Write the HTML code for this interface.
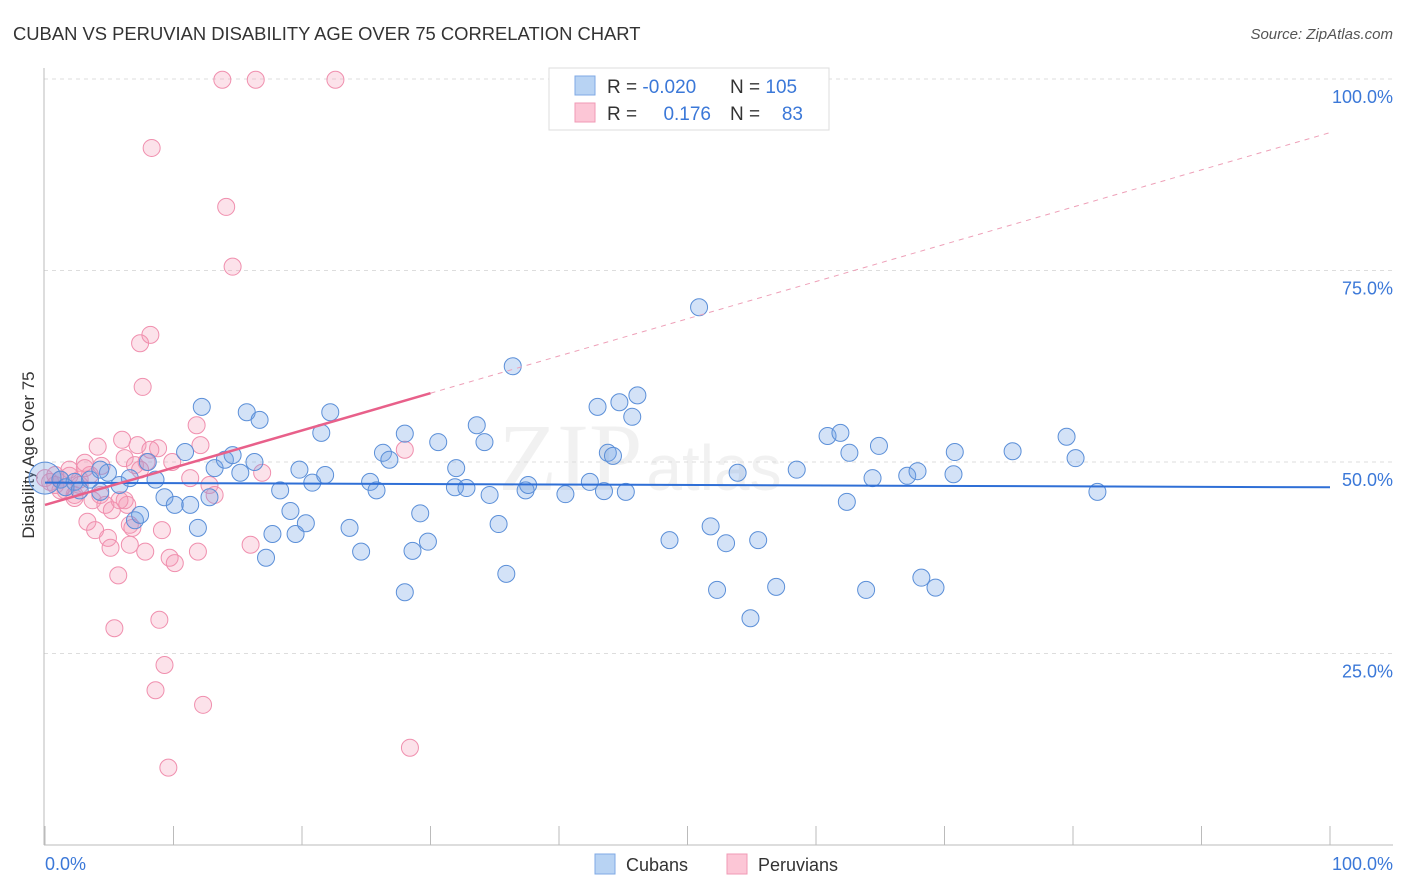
<!DOCTYPE html>
<html><head><meta charset="utf-8">
<style>
body{margin:0;background:#fff;font-family:"Liberation Sans",sans-serif;}
svg{display:block}
</style></head>
<body>
<svg id="chart" width="1406" height="892" xmlns="http://www.w3.org/2000/svg">
<text x="13" y="40" font-size="18.4" fill="#333">CUBAN VS PERUVIAN DISABILITY AGE OVER 75 CORRELATION CHART</text>
<text x="1393" y="39" font-size="15" fill="#555" font-style="italic" text-anchor="end">Source: ZipAtlas.com</text>
<text x="640" y="490" font-size="96" fill="#000" opacity="0.05" text-anchor="middle" font-family="Liberation Serif">ZIP<tspan font-family="Liberation Sans" font-size="64" dx="4">atlas</tspan></text>
<text transform="translate(34,455) rotate(-90)" font-size="17" fill="#333" text-anchor="middle">Disability Age Over 75</text>
<g id="grid"></g>
<g id="pts"></g>
<g id="trends"></g>
<g>
<rect x="549" y="68" width="280" height="62" fill="#fff" stroke="#ddd"/>
<rect x="575" y="76" width="20" height="19" fill="#b8d3f3" stroke="#7fa9e4"/>
<rect x="575" y="103" width="20" height="19" fill="#fcc6d6" stroke="#f09ab5"/>
<text x="607" y="93" font-size="19" fill="#333">R = <tspan fill="#3b78d8">-0.020</tspan></text>
<text x="730" y="93" font-size="19" fill="#333">N = <tspan fill="#3b78d8">105</tspan></text>
<text x="607" y="120" font-size="19" fill="#333">R = </text>
<text x="711" y="120" font-size="19" fill="#3b78d8" text-anchor="end">0.176</text>
<text x="730" y="120" font-size="19" fill="#333">N = </text>
<text x="803" y="120" font-size="19" fill="#3b78d8" text-anchor="end">83</text>
</g>
<g>
<rect x="595" y="854" width="20" height="20" fill="#b8d3f3" stroke="#7fa9e4"/>
<text x="626" y="871" font-size="18" fill="#333">Cubans</text>
<rect x="727" y="854" width="20" height="20" fill="#fcc6d6" stroke="#f09ab5"/>
<text x="758" y="871" font-size="18" fill="#333">Peruvians</text>
</g>
<text x="45" y="870" font-size="18" fill="#3b78d8">0.0%</text>
<text x="1393" y="870" font-size="18" fill="#3b78d8" text-anchor="end">100.0%</text>
</svg>
<script>
const cubanX=[0,1.2,2.3,3.5,4.3,4.9,5.8,7.0,7.4,8.0,8.6,9.3,10.1,10.9,11.3,11.9,12.2,12.8,13.2,14.0,14.6,15.2,15.7,16.3,16.7,17.2,17.7,18.3,19.1,19.5,19.8,20.3,20.8,21.5,21.8,22.2,23.7,24.6,25.3,25.8,26.3,26.8,28.0,28.0,28.6,29.2,29.8,30.6,32.0,31.9,32.8,33.6,34.2,34.6,35.3,35.9,36.4,37.4,37.6,40.5,42.4,43.0,43.5,43.8,44.2,44.7,45.2,45.7,46.1,48.6,50.9,51.8,52.3,53.0,53.9,54.9,55.5,56.9,58.5,60.9,61.9,62.4,62.6,63.9,64.4,64.9,67.1,67.9,68.2,69.3,70.7,70.8,75.3,79.5,80.2,81.9,1.6,2.7,4.3,6.6];
const cubanY=[47.9,47.7,47.4,47.7,46.1,48.6,47.0,42.4,43.1,50.0,47.7,45.4,44.4,51.3,44.4,41.4,57.2,45.4,49.2,50.3,50.9,48.6,56.5,50.0,55.5,37.5,40.6,46.3,43.6,40.6,49.0,42.0,47.3,53.8,48.3,56.5,41.4,38.3,47.4,46.3,51.2,50.3,53.7,33.0,38.4,43.3,39.6,52.6,49.2,46.7,46.6,54.8,52.6,45.7,41.9,35.4,62.5,46.3,47.0,45.8,47.4,57.2,46.2,51.2,50.8,57.8,46.1,55.9,58.7,39.8,70.2,41.6,33.3,39.4,48.6,29.6,39.8,33.7,49.0,53.4,53.8,44.8,51.2,33.3,47.9,52.1,48.2,48.8,34.9,33.6,48.4,51.3,51.4,53.3,50.5,46.1,46.7,46.3,49.0,47.9];
const peruX=[0,0.4,0.8,1.2,1.6,1.9,2.3,2.7,3.1,3.3,3.7,3.9,4.1,4.4,4.7,4.9,5.1,5.4,5.7,6.0,6.2,6.4,6.6,6.8,7.0,7.2,7.4,7.6,7.8,7.9,8.2,8.3,8.6,8.8,8.9,9.1,9.3,9.6,9.7,9.9,10.1,11.3,11.8,11.9,12.1,12.3,12.8,13.2,13.8,14.1,14.6,16.0,16.4,16.9,22.6,28.0,28.4,1.9,2.7,3.5,4.3,5.2,6.2,7.4,0.8,1.2,2.3,3.1,5.8,6.6,8.2];
const peruY=[47.9,47.4,47.0,47.7,46.3,48.2,45.7,47.7,49.9,42.2,45.0,41.1,52.0,49.5,44.4,40.1,38.8,28.3,35.2,52.9,50.5,44.4,41.8,41.4,49.6,52.2,65.5,59.8,38.3,50.0,66.6,91.0,20.2,51.8,29.4,41.1,23.5,10.1,37.5,50.0,36.8,47.9,54.8,38.3,52.2,18.3,47.0,45.7,99.9,83.3,75.5,39.2,99.9,48.6,99.9,51.6,12.7,49.0,47.0,48.3,45.7,43.7,45.0,49.0,48.3,46.3,45.3,49.2,45.0,39.2,51.6];
const yTicks=[25,50,75,100];
const yTickLabels=["25.0%","50.0%","75.0%","100.0%"];
const xTicks=[0,10,20,30,40,50,60,70,80,90,100];
const cubanTrend=[47.3,46.7];
const peruTrend=[44.4,93.0];
const peruSolidEnd=30;

const NS="http://www.w3.org/2000/svg";
const sx=v=>45+v*12.85;
const sy=v=>845-v*7.66;
function mk(tag,attrs,parent){const e=document.createElementNS(NS,tag);for(const k in attrs)e.setAttribute(k,attrs[k]);parent.appendChild(e);return e;}
const grid=document.getElementById('grid');
yTicks.forEach((t,i)=>{
  const l=mk('line',{x1:44,x2:1393,y1:sy(t),y2:sy(t),stroke:'#ddd','stroke-dasharray':'4,4'},grid);
  
  
  const tx=mk('text',{x:1393,y:sy(t)+24,'font-size':18,fill:'#3b78d8','text-anchor':'end'},grid);
  tx.textContent=yTickLabels[i];
  
  
});
const ax=mk('line',{x1:44,x2:44,y1:68,y2:845,stroke:'#bbb'},grid);


const bx=mk('line',{x1:44,x2:1393,y1:845,y2:845,stroke:'#bbb'},grid);


xTicks.forEach(t=>{
  const l=mk('line',{x1:sx(t),x2:sx(t),y1:826,y2:845,stroke:'#bbb'},grid);
  
  
});
const pts=document.getElementById('pts');
peruX.forEach((x,i)=>{
  const c=mk('circle',{cx:sx(x),cy:sy(peruY[i]),r:8.5,fill:'rgba(244,150,180,0.28)',stroke:'#f08fae','stroke-width':1},pts);
  
  
});
cubanX.forEach((x,i)=>{
  const c=mk('circle',{cx:sx(x),cy:sy(cubanY[i]),r:i===0?16:8.5,fill:'rgba(110,160,230,0.3)',stroke:'#5b8fd8','stroke-width':1},pts);
  
  
});
const tr=document.getElementById('trends');
const bl=mk('line',{x1:sx(0),y1:sy(cubanTrend[0]),x2:sx(100),y2:sy(cubanTrend[1]),stroke:'#2f6fd6','stroke-width':2},tr);


const pAt=x=>peruTrend[0]+(peruTrend[1]-peruTrend[0])*x/100;
const pl=mk('line',{x1:sx(0),y1:sy(pAt(0)),x2:sx(peruSolidEnd),y2:sy(pAt(peruSolidEnd)),stroke:'#e8608a','stroke-width':2.5},tr);


const pd=mk('line',{x1:sx(peruSolidEnd),y1:sy(pAt(peruSolidEnd)),x2:sx(100),y2:sy(pAt(100)),stroke:'#eea0b8','stroke-width':1,'stroke-dasharray':'5,5'},tr);


</script>
</body></html>
